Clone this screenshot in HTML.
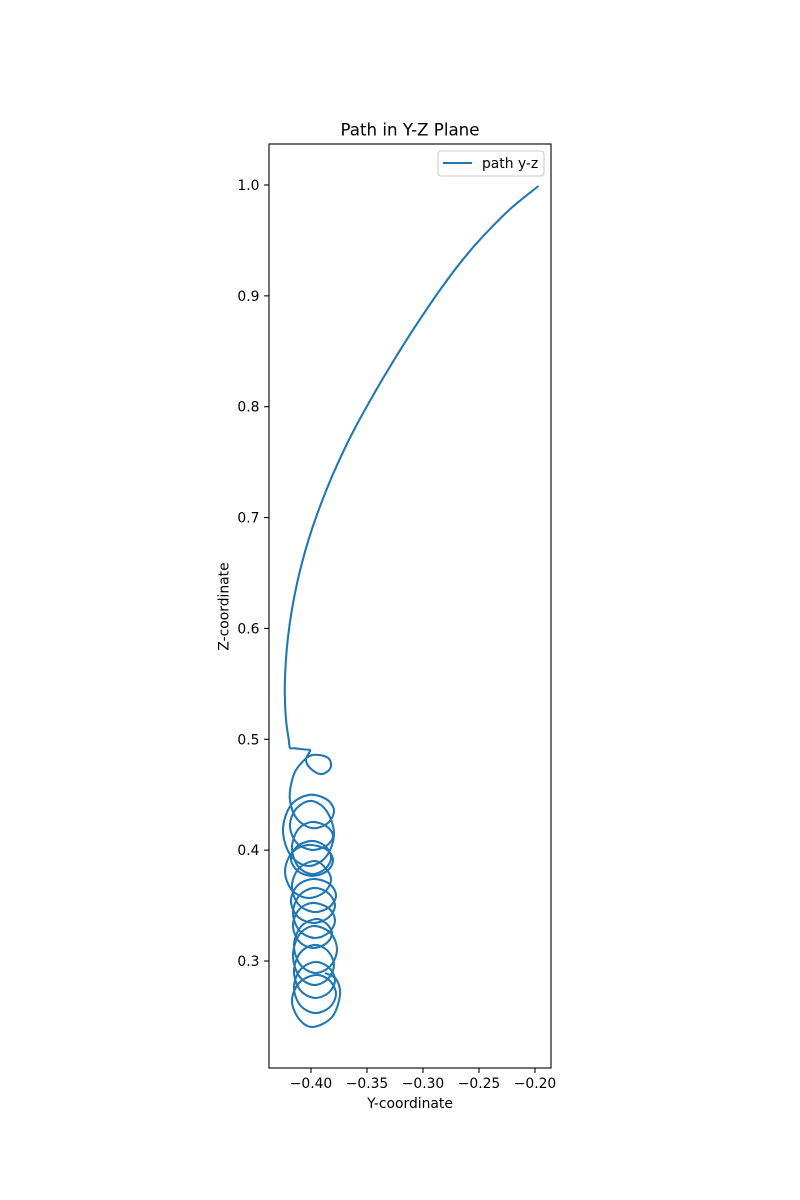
<!DOCTYPE html>
<html>
<head>
<meta charset="utf-8">
<title>Path in Y-Z Plane</title>
<style>
html,body{margin:0;padding:0;background:#fff;width:800px;height:1200px;overflow:hidden}
svg{display:block}
text{font-family:"DejaVu Sans","Liberation Sans",sans-serif;fill:#000}
</style>
</head>
<body>
<svg id="chart" xmlns="http://www.w3.org/2000/svg" width="800" height="1200" viewBox="0 0 800 1200">
  <rect x="0" y="0" width="800" height="1200" fill="#fff"/>
  <rect x="269" y="144" width="282" height="924" fill="#fff"/>
  <g id="marks"></g>
  <g id="axes"></g>
  <rect x="269" y="144" width="282" height="924" fill="none" stroke="#000" stroke-width="1.1"/>
  <text x="410" y="135.5" font-size="16.67" text-anchor="middle">Path in Y-Z Plane</text>
  <text x="410" y="1108" font-size="13.89" text-anchor="middle">Y-coordinate</text>
  <text transform="translate(228.5,606.5) rotate(-90)" font-size="13.89" text-anchor="middle">Z-coordinate</text>
  <g>
    <rect x="438" y="151" width="106" height="25" rx="3" ry="3" fill="#fff" fill-opacity="0.8" stroke="#ccc" stroke-width="1.1"/>
    <line x1="443" y1="163" x2="472" y2="163" stroke="#1f77b4" stroke-width="2.08"/>
    <text x="482" y="168" font-size="13.89">path y-z</text>
  </g>
</svg>
<script>
var xTicks = [-0.40, -0.35, -0.30, -0.25, -0.20];
var xTickLabels = ["\u22120.40", "\u22120.35", "\u22120.30", "\u22120.25", "\u22120.20"];
var yTicks = [0.3, 0.4, 0.5, 0.6, 0.7, 0.8, 0.9, 1.0];
var yTickLabels = ["0.3", "0.4", "0.5", "0.6", "0.7", "0.8", "0.9", "1.0"];

var pathY = [
  -0.1969, -0.2223, -0.2491, -0.2669, -0.2839, -0.3022, -0.3201, -0.3382, -0.3564, -0.3662,
  -0.3747, -0.3826, -0.3908, -0.3985, -0.4054, -0.4124, -0.4174, -0.4211, -0.4229, -0.4234,
  -0.4223,
  -0.4198, -0.4188, -0.4152, -0.4054, -0.4009, -0.4018, -0.4045, -0.4009, -0.3920, -0.3848,
  -0.3821, -0.3848, -0.3937, -0.4027, -0.4134, -0.4179, -0.4188, -0.4143, -0.4045, -0.3946,
  -0.3839, -0.3795, -0.3866,
  -0.4022, -0.4182, -0.4250, -0.4182, -0.4022, -0.3862, -0.3795, -0.3862,
  -0.3996, -0.4129, -0.4188, -0.4129, -0.3996, -0.3862, -0.3804, -0.3862,
  -0.3996, -0.4117, -0.4170, -0.4117, -0.3996, -0.3874, -0.3821, -0.3874,
  -0.3991, -0.4122, -0.4179, -0.4122, -0.3991, -0.3860, -0.3804, -0.3860,
  -0.4027, -0.4171, -0.4232, -0.4171, -0.4027, -0.3883, -0.3821, -0.3883,
  -0.3973, -0.4111, -0.4170, -0.4111, -0.3973, -0.3836, -0.3777, -0.3836,
  -0.3982, -0.4120, -0.4179, -0.4120, -0.3982, -0.3845, -0.3786, -0.3845,
  -0.3973, -0.4104, -0.4161, -0.4104, -0.3973, -0.3842, -0.3786, -0.3842,
  -0.3987, -0.4108, -0.4161, -0.4108, -0.3987, -0.3865, -0.3812, -0.3865,
  -0.3960, -0.4094, -0.4152, -0.4094, -0.3960, -0.3826, -0.3768, -0.3826,
  -0.3978, -0.4106, -0.4161, -0.4106, -0.3978, -0.3850, -0.3795, -0.3850,
  -0.3969, -0.4097, -0.4152, -0.4097, -0.3969, -0.3841, -0.3786, -0.3841,
  -0.3964, -0.4096, -0.4152, -0.4096, -0.3964, -0.3833, -0.3777, -0.3833,
  -0.3955, -0.4105, -0.4170, -0.4105, -0.3982, -0.3812, -0.3741, -0.3777, -0.3875
];
var pathZ = [
  0.9991, 0.9782, 0.9508, 0.9296, 0.9066, 0.8796, 0.8516, 0.8214, 0.7889, 0.7700,
  0.7519, 0.7339, 0.7132, 0.6915, 0.6690, 0.6410, 0.6148, 0.5869, 0.5625, 0.5418,
  0.5174,
  0.4994, 0.4922, 0.4920, 0.4908, 0.4904, 0.4877, 0.4814, 0.4741, 0.4687, 0.4714,
  0.4768, 0.4832, 0.4859, 0.4841, 0.4723, 0.4588, 0.4453, 0.4308, 0.4218, 0.4200,
  0.4254, 0.4363, 0.4462,
  0.4498, 0.4402, 0.4178, 0.3953, 0.3857, 0.3945, 0.4150, 0.4355,
  0.4444, 0.4377, 0.4222, 0.4068, 0.4002, 0.4040, 0.4128, 0.4216,
  0.4254, 0.4184, 0.4020, 0.3856, 0.3785, 0.3830, 0.3934, 0.4038,
  0.4083, 0.4036, 0.3925, 0.3815, 0.3767, 0.3809, 0.3907, 0.4005,
  0.4047, 0.3975, 0.3808, 0.3640, 0.3569, 0.3619, 0.3736, 0.3852,
  0.3902, 0.3833, 0.3672, 0.3511, 0.3442, 0.3487, 0.3591, 0.3696,
  0.3740, 0.3681, 0.3542, 0.3403, 0.3343, 0.3391, 0.3501, 0.3612,
  0.3659, 0.3591, 0.3433, 0.3276, 0.3208, 0.3255, 0.3366, 0.3476,
  0.3524, 0.3463, 0.3321, 0.3179, 0.3118, 0.3158, 0.3249, 0.3340,
  0.3379, 0.3306, 0.3136, 0.2965, 0.2892, 0.2956, 0.3104, 0.3253,
  0.3316, 0.3236, 0.3050, 0.2864, 0.2784, 0.2838, 0.2964, 0.3091,
  0.3145, 0.3073, 0.2906, 0.2738, 0.2667, 0.2715, 0.2829, 0.2943,
  0.2991, 0.2921, 0.2761, 0.2600, 0.2531, 0.2583, 0.2703, 0.2823,
  0.2874, 0.2804, 0.2640, 0.2475, 0.2405, 0.2495, 0.2694, 0.2838, 0.2892
];

var SVG_NS = "http://www.w3.org/2000/svg";
function xScale(v) { return 311 + (v + 0.40) * 1120; }
function yScale(v) { return 185 + (1.0 - v) * 1108.6; }

var axesLayer = document.getElementById("axes");
var marksLayer = document.getElementById("marks");

xTicks.forEach(function (t, i) {
  var px = xScale(t);
  var tick = document.createElementNS(SVG_NS, "line");
  tick.setAttribute("x1", px);
  tick.setAttribute("x2", px);
  tick.setAttribute("y1", 1068);
  tick.setAttribute("y2", 1072.9);
  tick.setAttribute("stroke", "#000");
  tick.setAttribute("stroke-width", "1.1");
  
  
  axesLayer.appendChild(tick);
  var label = document.createElementNS(SVG_NS, "text");
  label.setAttribute("x", px);
  label.setAttribute("y", 1088);
  label.setAttribute("font-size", "13.89");
  label.setAttribute("text-anchor", "middle");
  
  
  label.textContent = xTickLabels[i];
  axesLayer.appendChild(label);
});

yTicks.forEach(function (t, i) {
  var py = yScale(t);
  var tick = document.createElementNS(SVG_NS, "line");
  tick.setAttribute("x1", 264.1);
  tick.setAttribute("x2", 269);
  tick.setAttribute("y1", py);
  tick.setAttribute("y2", py);
  tick.setAttribute("stroke", "#000");
  tick.setAttribute("stroke-width", "1.1");
  
  
  axesLayer.appendChild(tick);
  var label = document.createElementNS(SVG_NS, "text");
  label.setAttribute("x", 259.5);
  label.setAttribute("y", py + 5);
  label.setAttribute("font-size", "13.89");
  label.setAttribute("text-anchor", "end");
  
  
  label.textContent = yTickLabels[i];
  axesLayer.appendChild(label);
});

function splinePath(xs, ys) {
  var n = xs.length;
  var d = "M" + xs[0].toFixed(2) + " " + ys[0].toFixed(2);
  for (var i = 0; i < n - 1; i++) {
    var p0 = Math.max(i - 1, 0), p3 = Math.min(i + 2, n - 1);
    var c1x = xs[i] + (xs[i + 1] - xs[p0]) / 6;
    var c1y = ys[i] + (ys[i + 1] - ys[p0]) / 6;
    var c2x = xs[i + 1] - (xs[p3] - xs[i]) / 6;
    var c2y = ys[i + 1] - (ys[p3] - ys[i]) / 6;
    d += "C" + c1x.toFixed(2) + " " + c1y.toFixed(2) + " " + c2x.toFixed(2) + " " + c2y.toFixed(2) + " " + xs[i + 1].toFixed(2) + " " + ys[i + 1].toFixed(2);
  }
  return d;
}

var seriesLine = document.createElementNS(SVG_NS, "path");
seriesLine.setAttribute("d", splinePath(pathY.map(xScale), pathZ.map(yScale)));
seriesLine.setAttribute("fill", "none");
seriesLine.setAttribute("stroke", "#1f77b4");
seriesLine.setAttribute("stroke-width", "2.08");
seriesLine.setAttribute("stroke-linejoin", "round");


marksLayer.appendChild(seriesLine);
</script>
</body>
</html>
